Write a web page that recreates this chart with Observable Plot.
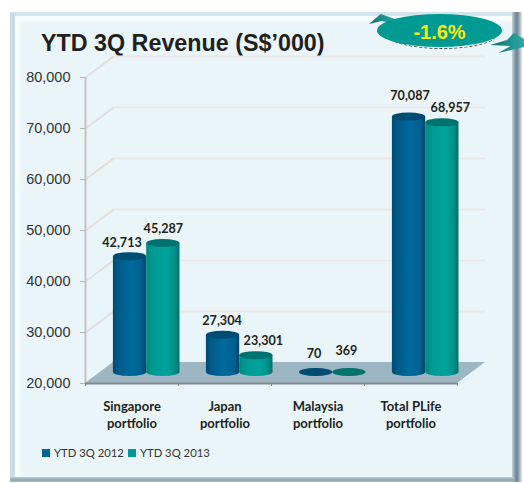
<!DOCTYPE html>
<html><head><meta charset="utf-8">
<script src="https://cdn.jsdelivr.net/npm/d3@7"></script>
<script src="https://cdn.jsdelivr.net/npm/@observablehq/plot@0.6"></script>
<style>
html,body{margin:0;padding:0;background:#fff;width:524px;height:483px;overflow:hidden;position:relative}
.panel{position:absolute;left:10px;top:12px;width:504px;height:467px;box-sizing:border-box;background:#e9f5f9;
 border-left:5px solid #c8dce6;border-top:4px solid #d3e5ec;box-shadow:inset 5px 6px 4px #f8fcfd}
.rightEdge{position:absolute;left:512px;top:12px;width:10px;height:470px;background:linear-gradient(90deg,#c3d3da,#8499a4 30%,#6d828d 50%,#a3b3ba 75%,#e4e9eb)}
.bottomEdge{position:absolute;left:10px;top:477px;width:504px;height:5px;background:linear-gradient(180deg,#b9cdd7,#8fa7b3 60%,#a9bbc4)}
.title{position:absolute;left:41px;top:30px;font:bold 23.3px "Liberation Sans";color:#231f20;white-space:nowrap}
.badge{position:absolute;left:377px;top:14px;width:125px;height:33px;border-radius:50%;background:#009a93;color:#f5ee12;font:bold 20px/37px "Liberation Sans";text-align:center}
.under{position:absolute;left:386px;top:18px;width:112px;height:30px;border-radius:50%;border-bottom:1px dashed #444}
.arrow{position:absolute;background:linear-gradient(90deg,#116f6e,#2aa9a5)}
.a1{left:369px;top:14px;width:26px;height:10px;clip-path:polygon(0 100%,45% 0,100% 50%,100% 100%,50% 70%)}
.a2{left:490px;top:33px;width:34px;height:20px;clip-path:polygon(0 60%,50% 35%,70% 0,100% 30%,100% 70%,25% 100%,60% 65%)}
.legend{position:absolute;left:42px;top:446px;font:11.3px Lato;color:#333;display:flex;align-items:center;white-space:nowrap}
.legend i{display:inline-block;width:8px;height:8px;margin-right:4px}
.legend span{margin-right:4px}
svg{position:absolute;left:0;top:0;background:transparent!important}
</style></head><body>
<div class="panel"></div>
<div class="rightEdge"></div>
<div class="bottomEdge"></div>
<div class="under"></div>
<div class="arrow a1"></div><div class="arrow a2"></div>
<div class="badge">-1.6%</div>
<div class="title">YTD 3Q Revenue (S$’000)</div>
<div id="chart"></div>
<div class="legend" id="legend"></div>
<script>
const categories = ["Singapore\nportfolio", "Japan\nportfolio", "Malaysia\nportfolio", "Total PLife\nportfolio"];
const seriesNames = ["YTD 3Q 2012", "YTD 3Q 2013"];
const values2012 = [42713, 27304, 70, 70087];
const values2013 = [45287, 23301, 369, 68957];
const yTicks = [20000, 30000, 40000, 50000, 60000, 70000, 80000];

const base = 20000, depthX = 0.3, depthY = 4100;
const barW = 0.358, barStart = 0.3;
const colors = {"YTD 3Q 2012": "#006596", "YTD 3Q 2013": "#009a93"};
const capColors = {"YTD 3Q 2012": "#004c72", "YTD 3Q 2013": "#00736e"};
const gradIds = {"YTD 3Q 2012": "g12", "YTD 3Q 2013": "g13"};
const labelNudge = [
 [[-8,-25],[0,-26]],
 [[-1,-25],[7,-26]],
 [[-2,-30],[-3,-33]],
 [[1,-32],[8,-26]]
];
const fmt = d3.format(",");

const rows = seriesNames.flatMap((s, si) =>
  (si ? values2013 : values2012).map((v, i) => ({
    series: s, si, i, value: v, top: Math.max(v, base),
    x1: i + barStart + si * barW, x2: i + barStart + (si + 1) * barW
  })));
const floor = [
  {x1: 0, y1: base, x2: depthX, y2: base + depthY},
  {x1: 4, y1: base, x2: 4 + depthX, y2: base + depthY}
];
const barDy = -11;

const barMarks = seriesNames.flatMap(s => {
  const d = rows.filter(r => r.series === s);
  const tall = d.filter(r => r.value >= base);
  const fill = `url(#${gradIds[s]})`;
  return [
    Plot.rect(tall, {x1: "x1", x2: "x2", y1: base, y2: base, dy: barDy, fill, rx: 16, ry: 4, insetTop: -4, insetBottom: -4}),
    Plot.rect(tall, {x1: "x1", x2: "x2", y1: base, y2: "top", dy: barDy, fill}),
    Plot.rect(d, {x1: "x1", x2: "x2", y1: "top", y2: "top", dy: barDy, fill: capColors[s], rx: 16, ry: 4, insetTop: -4, insetBottom: -4})
  ];
});
const labelMarks = rows.map(r => Plot.text([r], {
  x: d => (d.x1 + d.x2) / 2, y: "top", text: d => fmt(d.value),
  dx: labelNudge[r.i][r.si][0], dy: labelNudge[r.i][r.si][1],
  fontFamily: "Lato", fontWeight: 700, fontSize: 12.6, fill: "#231f20"
}));

const plot = Plot.plot({
  width: 524, height: 483,
  marginLeft: 85, marginRight: 67, marginTop: 77, marginBottom: 100,
  x: {domain: [0, 4]},
  y: {domain: [base, 80000]},
  style: {background: "transparent", overflow: "visible"},
  marks: [
    Plot.ruleY(yTicks.slice(1), {y: d => d + depthY, x1: depthX, x2: 4 + depthX, stroke: "#ebe7e4", strokeWidth: 2}),
    Plot.link(yTicks.slice(1), {x1: 0, y1: d => d, x2: depthX, y2: d => d + depthY, stroke: "#e2dfde", strokeWidth: 2}),
    Plot.area(floor, {x1: "x1", y1: "y1", x2: "x2", y2: "y2", fill: "#9db6c3"}),
    Plot.ruleX([0], {stroke: "#c4c4c4", strokeWidth: 2}),
    Plot.ruleY([base], {x1: 0, x2: 4, stroke: "#85878a", strokeWidth: 2}),
    Plot.axisY(yTicks, {tickFormat: fmt, tickSize: 5, tickPadding: 10, stroke: "#b5b5b5", fontSize: 14.5, fontFamily: "Liberation Sans", fill: "#333", label: null}),
    Plot.axisX([0, 1, 2, 3, 4], {tickSize: 3, tickFormat: () => "", stroke: "#808080", label: null}),
    Plot.axisX([0, 1, 2, 3], {
      ticks: [0, 1, 2, 3], x: d => d + 0.5, tickSize: 0, tickPadding: 15, tickFormat: null, label: null,
      text: d => categories[d], fontFamily: "Lato", fontWeight: 700, fontSize: 13, lineHeight: 1.31, fill: "#231f20"
    }),
    ...barMarks,
    ...labelMarks,
    () => {
      const s = d3.create("svg:g");
      const defs = s.append("defs");
      const grad = (id, stops) => {
        const g = defs.append("linearGradient").attr("id", id);
        stops.forEach(([o, c]) => g.append("stop").attr("offset", o).attr("stop-color", c));
      };
      grad("g12", [[0, "#004a72"], [.15, "#005a88"], [.55, "#006a9e"], [.85, "#005f8d"], [1, "#00456b"]]);
      grad("g13", [[0, "#008880"], [.2, "#009a93"], [.6, "#00a49d"], [.85, "#008f89"], [1, "#00706c"]]);
      return s.node();
    }
  ]
});
document.getElementById("chart").append(plot);
const lg = document.getElementById("legend");
seriesNames.forEach(s => {
  const i = document.createElement("i"); i.style.background = colors[s];
  const t = document.createElement("span"); t.textContent = s;
  lg.append(i, t);
});
</script>
</body></html>
